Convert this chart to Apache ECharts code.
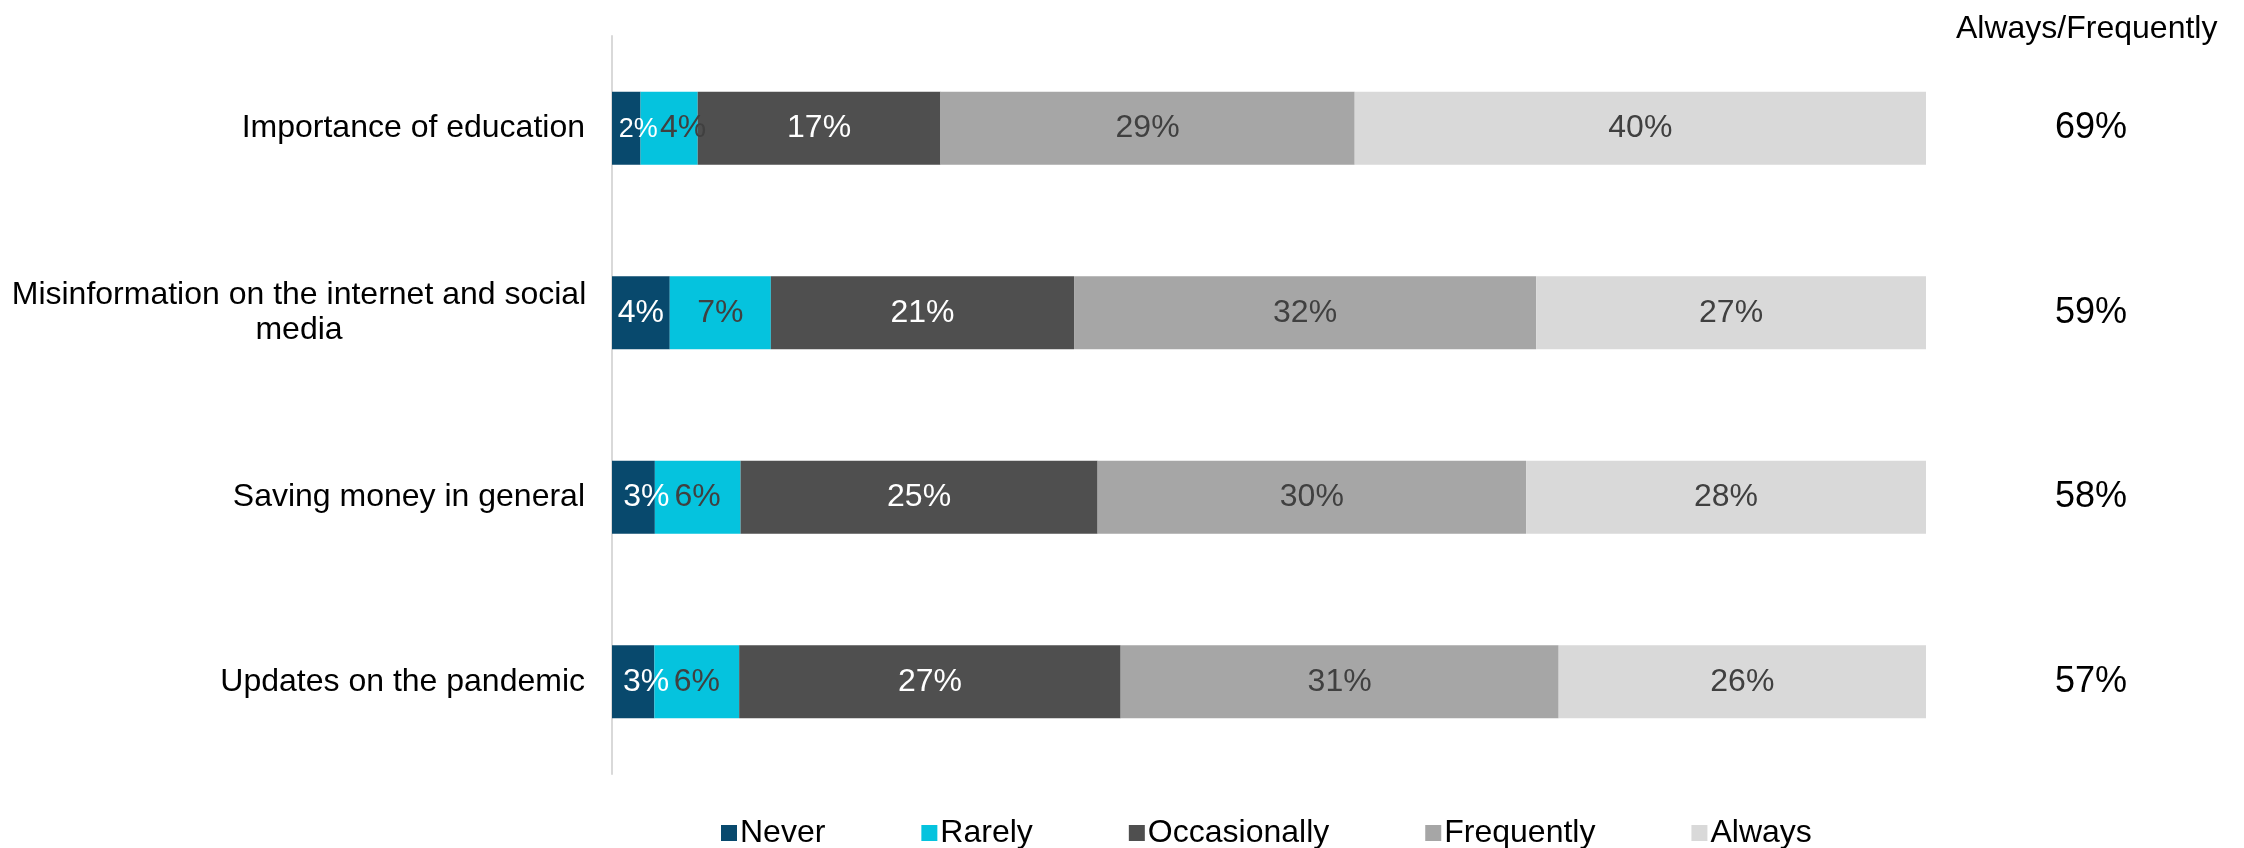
<!DOCTYPE html>
<html>
<head>
<meta charset="utf-8">
<script src="https://cdn.jsdelivr.net/npm/echarts@6/dist/echarts.min.js"></script>
<style>
html,body{margin:0;padding:0;background:#fff;}
#chart{width:2244px;height:848px;}
</style>
</head>
<body>
<div id="chart"></div>
<script>
const categories = [
  'Importance of education',
  'Misinformation on the internet and social media',
  'Saving money in general',
  'Updates on the pandemic'
];
const never = [2, 4, 3, 3];
const rarely = [4, 7, 6, 6];
const occasionally = [17, 21, 25, 27];
const frequently = [29, 32, 30, 31];
const always = [40, 27, 28, 26];
const alwaysFrequently = [69, 59, 58, 57];
const seriesNames = ['Never', 'Rarely', 'Occasionally', 'Frequently', 'Always'];
const colors = ['#08496D', '#05C3DE', '#4F4F4F', '#A6A6A6', '#D9D9D9'];
const labelColors = ['#FFFFFF', '#404040', '#FFFFFF', '#404040', '#404040'];

const FONT = '"Liberation Sans", Arial, sans-serif';
const allData = [never, rarely, occasionally, frequently, always];
const rowTotals = categories.map((_, i) => allData.reduce((s, arr) => s + arr[i], 0));

// label tweaks for narrow segments (styling only)
function labelTweak(k, i) {
  if (k === 0 && i === 0) return { fontSize: 27, offset: [12, 1] };
  if (k === 0 && (i === 2 || i === 3)) return { offset: [13, 0] };
  if (k === 1 && i === 0) return { offset: [14, 0] };
  return null;
}

const series = allData.map((arr, k) => ({
  name: seriesNames[k],
  type: 'bar',
  stack: 'total',
  barWidth: 73,
  itemStyle: { color: colors[k] },
  label: {
    show: true,
    position: 'inside',
    fontFamily: FONT,
    fontSize: 32,
    color: labelColors[k],
    formatter: p => p.data.raw + '%'
  },
  emphasis: { disabled: true },
  data: arr.map((v, i) => {
    const item = { value: v / rowTotals[i] * 100, raw: v };
    const t = labelTweak(k, i);
    if (t) item.label = t;
    return item;
  })
}));

const chart = echarts.init(document.getElementById('chart'));
chart.setOption({
  animation: false,
  backgroundColor: '#fff',
  textStyle: { fontFamily: FONT },
  title: {
    text: 'Always/Frequently',
    left: 1956,
    top: 13,
    padding: 0,
    textStyle: { fontFamily: FONT, fontSize: 32, fontWeight: 'normal', color: '#000' }
  },
  legend: {
    data: seriesNames,
    left: 716,
    top: 812,
    itemWidth: 16,
    itemHeight: 16,
    itemGap: 96,
    icon: 'rect',
    selectedMode: false,
    textStyle: { fontFamily: FONT, fontSize: 32, color: '#000', padding: [0, 0, 0, -2] }
  },
  grid: { left: 612, right: 318, top: 36, bottom: 74, containLabel: false },
  xAxis: { type: 'value', min: 0, max: 100, show: false },
  yAxis: [
    {
      type: 'category',
      data: categories,
      inverse: true,
      axisLine: { show: true, lineStyle: { color: '#D9D9D9', width: 2 } },
      axisTick: { show: false },
      axisLabel: {
        margin: 27,
        fontFamily: FONT,
        fontSize: 32,
        color: '#000',
        formatter: v => v.startsWith('Misinformation')
          ? '{c|Misinformation on the internet and social}\n{c|media}'
          : v,
        rich: {
          c: { width: 572, align: 'center', fontFamily: FONT, fontSize: 32, color: '#000', lineHeight: 35 }
        }
      }
    },
    {
      type: 'category',
      position: 'right',
      data: alwaysFrequently.map(v => v + '%'),
      inverse: true,
      axisLine: { show: false },
      axisTick: { show: false },
      axisLabel: { margin: 129, fontFamily: FONT, fontSize: 36, color: '#000' }
    }
  ],
  series: series
});
</script>
</body>
</html>
